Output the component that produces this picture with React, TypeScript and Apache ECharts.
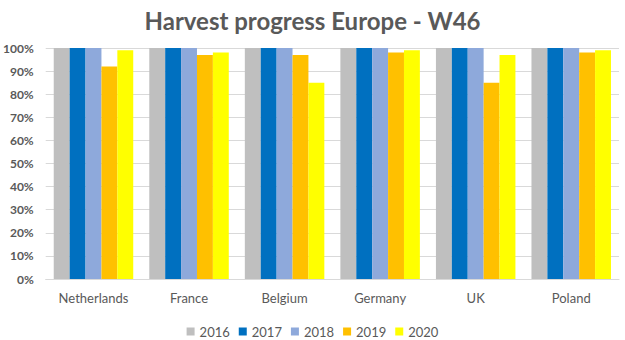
import React, { useEffect, useRef } from "react";
import * as echarts from "echarts";

const categories = ["Netherlands", "France", "Belgium", "Germany", "UK", "Poland"];
const years = ["2016", "2017", "2018", "2019", "2020"];
const v2016 = [100, 100, 100, 100, 100, 100];
const v2017 = [100, 100, 100, 100, 100, 100];
const v2018 = [100, 100, 100, 100, 100, 100];
const v2019 = [92, 97, 97, 98, 85, 98];
const v2020 = [99, 98, 85, 99, 97, 99];
const colors = ["#BFBFBF", "#0070C0", "#8EA9DB", "#FFC000", "#FFFF00"];
const yTicks = [0, 10, 20, 30, 40, 50, 60, 70, 80, 90, 100];

export default function App() {
  const ref = useRef<HTMLDivElement>(null);
  useEffect(() => {
    if (!ref.current) return;
    const chart = echarts.init(ref.current, undefined, { renderer: "svg" });
    const seriesData = [v2016, v2017, v2018, v2019, v2020];
    chart.setOption({
      animation: false,
      color: colors,
      title: {
        text: "Harvest progress Europe - W46",
        left: "center",
        top: 3,
        textStyle: { fontFamily: "Lato", fontWeight: "bold", fontSize: 24, color: "#595959" },
      },
      legend: {
        data: years,
        top: 320,
        left: "center",
        itemWidth: 8,
        itemHeight: 8,
        itemGap: 9,
        icon: "rect",
        textStyle: { fontFamily: "Lato", fontSize: 13, color: "#595959" },
      },
      grid: { left: 44, right: 6, top: 48, bottom: 61, containLabel: false },
      xAxis: {
        type: "category",
        data: categories,
        axisTick: { show: false },
        axisLine: { lineStyle: { color: "#D9D9D9" } },
        axisLabel: { fontFamily: "Lato", fontSize: 13, color: "#595959", margin: 12 },
      },
      yAxis: {
        type: "value",
        min: yTicks[0],
        max: yTicks[yTicks.length - 1],
        interval: 10,
        axisLine: { show: false },
        axisTick: { show: false },
        splitLine: { lineStyle: { color: "#D9D9D9" } },
        axisLabel: {
          formatter: "{value}%",
          fontFamily: "Lato",
          fontSize: 12,
          fontWeight: "bold",
          color: "#595959",
          margin: 12,
        },
      },
      series: years.map((y, i) => ({
        name: y,
        type: "bar",
        data: seriesData[i],
        barGap: "0%",
        barCategoryGap: "16.8%",
        itemStyle: { color: colors[i] },
      })),
    });
    return () => chart.dispose();
  }, []);
  return (
    <div
      ref={ref}
      style={{ position: "fixed", left: 0, top: 0, width: 625, height: 340, background: "#fff" }}
    />
  );
}
